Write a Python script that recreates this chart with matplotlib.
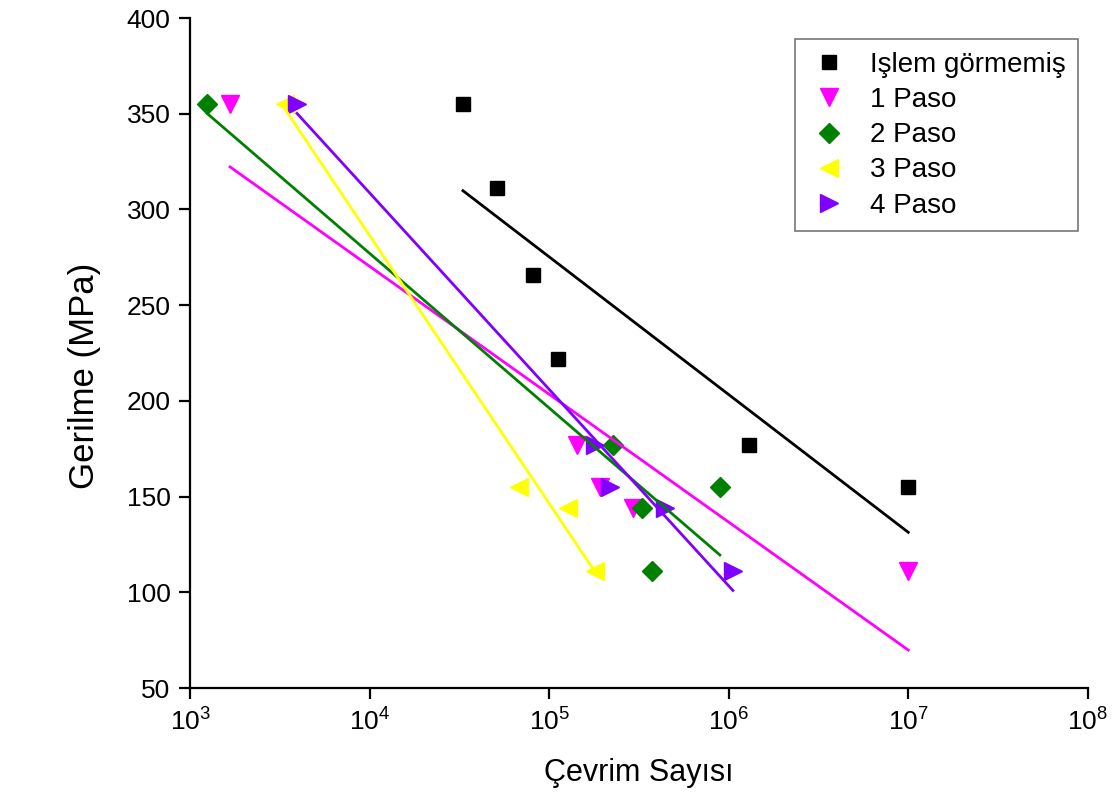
import matplotlib.pyplot as plt
import numpy as np

plt.rcParams['font.family'] = ['Liberation Sans', 'DejaVu Sans']
plt.rcParams['mathtext.fontset'] = 'custom'
plt.rcParams['mathtext.rm'] = 'Liberation Sans'
plt.rcParams['mathtext.it'] = 'Liberation Sans'

# cycles (x) and stress in MPa (y) for each group
islem_x = [33100, 51200, 81200, 112000, 1.295e6, 1.0e7]
islem_y = [355, 311, 266, 222, 177, 155]
p1_x = [1670, 143000, 192000, 293000, 1.0e7]
p1_y = [355, 177, 155, 144, 111]
p2_x = [1245, 226000, 329000, 373000, 893000]
p2_y = [355, 177, 144, 111, 155]
p3_x = [3380, 67900, 127000, 180000]
p3_y = [355, 155, 144, 111]
p4_x = [3940, 180000, 218000, 442000, 1.055e6]
p4_y = [355, 177, 155, 144, 111]

labels = ['Işlem görmemiş', '1 Paso', '2 Paso', '3 Paso', '4 Paso']
colors = ['black', '#FF00FF', '#008000', '#FFFF00', '#8000FF']
markers = ['s', 'v', 'D', '<', '>']
msizes = [10, 13, 10, 13, 13]

fig = plt.figure(figsize=(11.18, 8.05), dpi=100)
ax = fig.add_axes([0.170, 0.1453, 0.803, 0.8323])

series = [(islem_x, islem_y), (p1_x, p1_y), (p2_x, p2_y), (p3_x, p3_y), (p4_x, p4_y)]
for (xs, ys), lab, c, m, ms in zip(series, labels, colors, markers, msizes):
    xs = np.array(xs, dtype=float)
    ys = np.array(ys, dtype=float)
    ax.plot(xs, ys, linestyle='none', marker=m, color=c, markersize=ms, label=lab, zorder=2)
    # linear fit of stress vs log10(cycles)
    k, b = np.polyfit(np.log10(xs), ys, 1)
    lx = np.array([xs.min(), xs.max()])
    ax.plot(lx, k * np.log10(lx) + b, color=c, linewidth=2, zorder=3)

ax.set_xscale('log')
ax.set_xlim(1e3, 1e8)
ax.set_ylim(50, 400)
ax.set_yticks(np.arange(50, 401, 50))
ax.set_xticks([1e3, 1e4, 1e5, 1e6, 1e7, 1e8])
ax.xaxis.set_minor_locator(plt.NullLocator())

ax.spines['top'].set_visible(False)
ax.spines['right'].set_visible(False)
ax.spines['left'].set_linewidth(1.6)
ax.spines['bottom'].set_linewidth(1.6)
ax.tick_params(axis='both', direction='out', length=8, width=1.6, pad=6)
ax.tick_params(axis='y', labelsize=19)
ax.tick_params(axis='x', labelsize=19, pad=7)

ax.set_xlabel('Çevrim Sayısı', fontsize=22, labelpad=16)
ax.set_ylabel('Gerilme (MPa)', fontsize=25)
ax.yaxis.set_label_coords(-0.099, 0.466)

leg = ax.legend(loc='upper right', bbox_to_anchor=(0.989, 0.968), fontsize=20,
                frameon=True, fancybox=False, edgecolor='#555555',
                handletextpad=0.65, labelspacing=0.33, borderpad=0.45,
                handlelength=1.6, borderaxespad=0)
leg.get_frame().set_linewidth(1.2)

fig.savefig('out.png', dpi=100)
